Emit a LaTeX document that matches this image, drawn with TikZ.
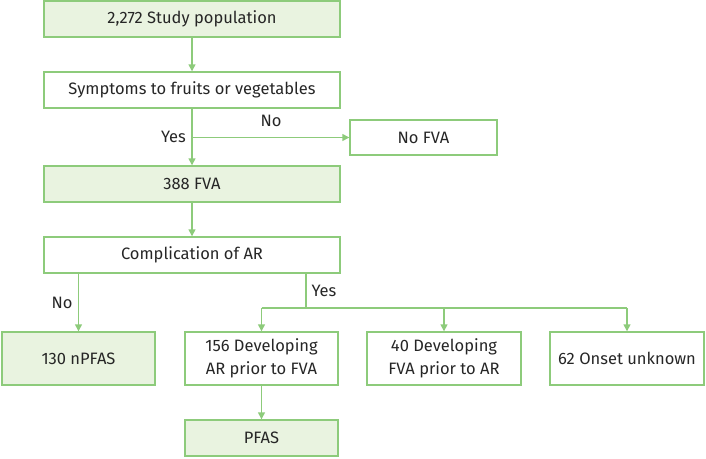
\documentclass[tikz,border=0pt]{standalone}
\usepackage{fontspec}
\setmainfont{Fira Sans}
\usetikzlibrary{arrows.meta}
\definecolor{gline}{HTML}{8DCB7B}
\definecolor{gfill}{HTML}{E9F3E0}
\tikzset{
  box/.style={draw=gline, line width=1.4pt, inner sep=0pt, align=center, font=\fontsize{16.5}{23}\selectfont, text=black!85},
  gbox/.style={box, fill=gfill},
  conn/.style={draw=gline, line width=1.4pt},
  arr/.style={conn, -{Triangle[length=7pt,width=7pt]}},
  lbl/.style={font=\fontsize{16.5}{20}\selectfont, text=black!85, inner sep=0pt}
}
\begin{document}
\begin{tikzpicture}[x=1pt,y=-1pt]
\useasboundingbox (0,0) rectangle (706,458);
\node[gbox, minimum width=296pt, minimum height=36pt] (pop) at (192,19) {2,272 Study population};
\node[box, minimum width=296pt, minimum height=36pt] (sym) at (192,90) {Symptoms to fruits or vegetables};
\node[box, minimum width=147pt, minimum height=35pt] (nofva) at (423.5,137.5) {No FVA};
\node[gbox, minimum width=296pt, minimum height=36pt] (fva) at (192,184) {388 FVA};
\node[box, minimum width=296pt, minimum height=36pt] (comp) at (192,255) {Complication of AR};
\node[gbox, minimum width=153pt, minimum height=53pt] (npfas) at (78.5,358.5) {130 nPFAS};
\node[box, minimum width=153pt, minimum height=53pt] (ar) at (261.5,358.5) {156 Developing\\AR prior to FVA};
\node[box, minimum width=154pt, minimum height=53pt] (fv) at (444,358.5) {40 Developing\\FVA prior to AR};
\node[box, minimum width=154pt, minimum height=53pt] (ons) at (627,358.5) {62 Onset unknown};
\node[gbox, minimum width=153pt, minimum height=36pt] (pfas) at (261.5,438) {PFAS};
\coordinate (b1) at (192,137.5);
\coordinate (b2) at (306,308);
\coordinate (bl) at (261.5,308);
\coordinate (br) at (627,308);
\draw[arr] (pop) -- (sym);
\draw[arr] (sym) -- (fva);
\draw[arr] (fva) -- (comp);
\draw[arr] (b1) -- (nofva);
\draw[arr] (comp.south -| npfas) -- (npfas);
\draw[conn] (comp.south -| b2) -- (b2);
\draw[conn] (bl) -- (br);
\draw[arr] (bl) -- (ar);
\draw[arr] (fv.north |- bl) -- (fv);
\draw[arr] (br) -- (ons);
\draw[arr] (ar) -- (pfas);
\node[lbl, anchor=east] (yes1) at (186,137) {Yes};
\node[lbl] (no1) at (271,121) {No};
\node[lbl] (no2) at (62,303) {No};
\node[lbl] (yes2) at (324,291) {Yes};
\end{tikzpicture}
\end{document}
